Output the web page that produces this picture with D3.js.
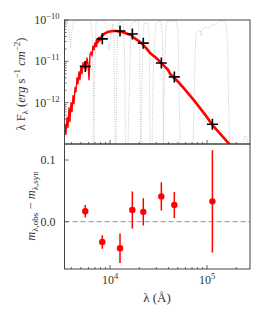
<!DOCTYPE html>
<html><head><meta charset="utf-8">
<script src="https://cdn.jsdelivr.net/npm/d3@7"></script>
<style>
body{margin:0;background:#fff}
text{font-family:"Liberation Serif","DejaVu Serif",serif;fill:#333}
</style>
</head><body>
<script>
// photometry (wavelength in Angstrom)
var bandLam  = [5560, 8330, 12680, 16990, 22030, 33800, 46000, 113500];
var bandFlux = [7.5e-12, 3.5e-11, 5.4e-11, 4.6e-11, 2.75e-11, 9.1e-12, 4.2e-12, 3.0e-13];
// residuals m_obs - m_syn
var resid    = [0.017, -0.033, -0.043, 0.019, 0.016, 0.041, 0.027, 0.033];
var residErr = [0.010, 0.011, 0.024, 0.030, 0.022, 0.023, 0.021, 0.083];

// model spectrum
var modelLam = [3436,3518,3604,3690,3779,3869,3962,4057,4155,4255,4357,4461,4569,4678,4790,4905,
  5023,5144,5267,5395,5524,5657,5793,5932,6074,6220,6370,6523,6679,6841,7004,7173,7345,7521,7702,
  7887,8270,8672,9095,9537,10000,10738,11533,12382,13297,14277,15331,16462,17677,18982,20383,21885,
  23500,25846,29104,31250,33560,36898,39620,41560,45680,50230,59320,75210,95370,112600,136100,164600,181000];
var modelFlux = [2.95e-13,1.69e-13,4.36e-13,2.5e-13,7.58e-13,3.48e-13,1.0e-12,6.07e-13,1.48e-12,9.46e-13,
  2.3e-12,1.84e-12,4.0e-12,2.87e-12,5.58e-12,3.58e-12,7.8e-12,5.0e-12,9.21e-12,6.97e-12,9.72e-12,6.24e-12,
  1.21e-11,8.71e-12,3.58e-12,1.44e-11,1.69e-11,1.36e-11,2.36e-11,1.89e-11,2.79e-11,2.36e-11,3.3e-11,2.95e-11,
  3.68e-11,3.3e-11,4.11e-11,4.6e-11,4.86e-11,5.14e-11,5.28e-11,5.43e-11,5.43e-11,5.28e-11,5.14e-11,4.86e-11,
  4.6e-11,4.35e-11,3.68e-11,3.3e-11,2.95e-11,2.5e-11,2.11e-11,1.6e-11,1.28e-11,1.09e-11,9.21e-12,7.36e-12,
  6.24e-12,5.0e-12,4.0e-12,3.21e-12,2.06e-12,1.06e-12,5.14e-13,2.95e-13,1.79e-13,1.08e-13,8.7e-14];
var noisyEnd = 7900; // the optical part of the model is a thin, spiky line

// filter transmission curves (normalised)
var filters = [
  {lam:[3357,3604,3779,3915,4057,4255,5932,6370,6600,6760,6922],
   tr:[0.984,0.992,0.935,0.774,0.919,0.992,1.0,0.984,0.839,0.435,0]},
  {lam:[6679,7004,7173,7521,8880,9313,9765,10240,10738,10996,11260],
   tr:[0,0.677,0.968,1.0,1.0,0.919,0.758,0.879,0.968,0.839,0]},
  {lam:[11533,11810,12090,12680,13615,14110,14450],
   tr:[0,0.677,0.960,0.984,0.984,0.758,0]},
  {lam:[15331,15890,16462,17260,19440,20150,20630],
   tr:[0,0.516,0.952,0.984,0.992,0.839,0]},
  {lam:[20870,21630,22410,24070,25240,25846],
   tr:[0,0.758,0.968,0.984,0.919,0]},
  {lam:[27100,28080,29810,31250,33560,34770,35610],
   tr:[0,0.677,0.968,0.992,0.992,0.839,0]},
  {lam:[35190,36470,37790,39620,47900,50230,51440,52680],
   tr:[0,0.597,0.968,0.992,0.992,0.919,0.435,0]},
  {lam:[71730,74330,76120,77030,84710,86740,88820,97660,104860,112600,123800,132900,139400,146200,157000,162700,166600,170600],
   tr:[0,0.516,0.839,0.903,0.919,0.871,0.927,0.944,0.935,0.960,0.968,0.984,1.0,0.992,0.960,0.839,0.355,0]},
  {lam:[235000,246500,255500,264700], tr:[0,0.065,0.056,0]}
];

var yTicksTop = [1e-10, 1e-11, 1e-12];
var yExpTop = ["\u221210", "\u221211", "\u221212"];
var xTicks = [1e4, 1e5];
var xExp = ["4", "5"];
var yTicksBot = [0.0, 0.1];

var W = 266, H = 319;
var L = 64.5, R = 250, T1 = 20, B1 = 144, B2 = 269;
var ink = "#444";

var svg = d3.select("body").append("svg").attr("width", W).attr("height", H);

var x = d3.scaleLog().domain([3397, 277000]).range([L, R]);
var yTop = d3.scaleLog().domain([1e-13, 1e-10]).range([B1, T1]);
var yTr = d3.scaleLinear().domain([0, 1]).range([B1, T1]);
var yBot = d3.scaleLinear().domain([-0.0767, 0.126]).range([B2, B1]);

var defs = svg.append("defs");
defs.append("clipPath").attr("id", "c1").append("rect")
  .attr("x", L).attr("y", T1).attr("width", R - L).attr("height", B1 - T1);
defs.append("clipPath").attr("id", "c2").append("rect")
  .attr("x", L).attr("y", B1).attr("width", R - L).attr("height", B2 - B1);

// ---- top panel
var g1 = svg.append("g").attr("clip-path", "url(#c1)");
var trLine = d3.line().x(function (d) { return x(d[0]); }).y(function (d) { return yTr(d[1]); });
filters.forEach(function (f) {
  g1.append("path")
    .attr("d", trLine(d3.zip(f.lam, f.tr)))
    .attr("fill", "none").attr("stroke", "#b8b8b8").attr("stroke-width", 0.8)
    .attr("stroke-dasharray", "1,1.4");
});

var mLine = d3.line().x(function (d) { return x(d[0]); }).y(function (d) { return yTop(d[1]); });
var model = d3.zip(modelLam, modelFlux);
g1.append("path")
  .attr("d", mLine(model.filter(function (d) { return d[0] <= noisyEnd; })))
  .attr("fill", "none").attr("stroke", "#ff0000").attr("stroke-width", 1.4)
  .attr("stroke-linejoin", "round");
g1.append("path")
  .attr("d", mLine(model.filter(function (d) { return d[0] >= 7000; })))
  .attr("fill", "none").attr("stroke", "#ff0000").attr("stroke-width", 2.6)
  .attr("stroke-linejoin", "round");

var s = 5.5;
bandLam.forEach(function (l, i) {
  var cx = x(l), cy = yTop(bandFlux[i]);
  svg.append("path")
    .attr("d", "M" + (cx - s) + "," + cy + "H" + (cx + s) + "M" + cx + "," + (cy - s) + "V" + (cy + s))
    .attr("stroke", "#000").attr("stroke-width", 1.6);
});

// ---- bottom panel
var g2 = svg.append("g").attr("clip-path", "url(#c2)");
g2.append("line")
  .attr("x1", L).attr("x2", R).attr("y1", yBot(0)).attr("y2", yBot(0))
  .attr("stroke", "#aaa").attr("stroke-width", 1.2).attr("stroke-dasharray", "5,3");
bandLam.forEach(function (l, i) {
  g2.append("line")
    .attr("x1", x(l)).attr("x2", x(l))
    .attr("y1", yBot(resid[i] - residErr[i])).attr("y2", yBot(resid[i] + residErr[i]))
    .attr("stroke", "#ff0000").attr("stroke-width", 1.5);
  g2.append("circle").attr("cx", x(l)).attr("cy", yBot(resid[i])).attr("r", 3.2)
    .attr("fill", "#ff0000");
});

// ---- frames
[[T1, B1], [B1, B2]].forEach(function (p) {
  svg.append("rect").attr("x", L).attr("y", p[0]).attr("width", R - L).attr("height", p[1] - p[0])
    .attr("fill", "none").attr("stroke", ink).attr("stroke-width", 1);
});

// ---- ticks
function tick(x1, y1, x2, y2) {
  svg.append("line").attr("x1", x1).attr("y1", y1).attr("x2", x2).attr("y2", y2)
    .attr("stroke", ink).attr("stroke-width", 0.8);
}
var minorX = [];
[1e3, 1e4, 1e5].forEach(function (d) {
  for (var k = 2; k <= 9; k++) minorX.push(d * k);
});
minorX.filter(function (v) { return v > 3397 && v < 277000; }).forEach(function (v) {
  tick(x(v), B1, x(v), B1 - 2); tick(x(v), B2, x(v), B2 - 2);
});
xTicks.forEach(function (v) {
  tick(x(v), B1, x(v), B1 - 4); tick(x(v), B2, x(v), B2 - 4);
});
[1e-13, 1e-12, 1e-11].forEach(function (d) {
  for (var k = 2; k <= 9; k++) tick(L, yTop(d * k), L + 2, yTop(d * k));
});
yTicksTop.forEach(function (v) { tick(L, yTop(v), L + 4, yTop(v)); });
yTicksBot.forEach(function (v) { tick(L, yBot(v), L + 4, yBot(v)); });

// ---- tick labels
yTicksTop.forEach(function (v, i) {
  var t = svg.append("text").attr("x", L - 5).attr("y", yTop(v) + 4)
    .attr("text-anchor", "end").attr("font-size", 12);
  t.append("tspan").text("10");
  t.append("tspan").attr("dy", -5).attr("font-size", 8.5).text(yExpTop[i]);
});
yTicksBot.forEach(function (v) {
  svg.append("text").attr("x", L - 9).attr("y", yBot(v) + 4)
    .attr("text-anchor", "end").attr("font-size", 12).text(d3.format(".1f")(v));
});
xTicks.forEach(function (v, i) {
  var t = svg.append("text").attr("x", x(v)).attr("y", B2 + 15)
    .attr("text-anchor", "middle").attr("font-size", 12);
  t.append("tspan").text("10");
  t.append("tspan").attr("dy", -5).attr("font-size", 8.5).text(xExp[i]);
});

// ---- axis labels
svg.append("text").attr("x", 157).attr("y", 302).attr("text-anchor", "middle")
  .attr("font-size", 13).text("\u03bb (\u00c5)");

var ly = svg.append("text").attr("transform", "translate(25,84) rotate(-90)")
  .attr("text-anchor", "middle").attr("font-size", 12.5);
ly.append("tspan").text("\u03bb F");
ly.append("tspan").attr("dy", 3).attr("font-size", 9).text("\u03bb");
ly.append("tspan").attr("dy", -3).text(" (");
ly.append("tspan").attr("font-style", "italic").text("erg");
ly.append("tspan").text(" s");
ly.append("tspan").attr("dy", -5).attr("font-size", 9).text("\u22121");
ly.append("tspan").attr("dy", 5).text(" ");
ly.append("tspan").attr("font-style", "italic").text("cm");
ly.append("tspan").attr("dy", -5).attr("font-size", 9).text("\u22122");
ly.append("tspan").attr("dy", 5).text(")");

var lb = svg.append("text").attr("transform", "translate(35,206) rotate(-90)")
  .attr("text-anchor", "middle").attr("font-size", 12.5);
lb.append("tspan").attr("font-style", "italic").text("m");
lb.append("tspan").attr("dy", 3).attr("font-size", 9).text("\u03bb,obs");
lb.append("tspan").attr("dy", -3).text(" \u2212 ");
lb.append("tspan").attr("font-style", "italic").text("m");
lb.append("tspan").attr("dy", 3).attr("font-size", 9).text("\u03bb,syn");
</script>
</body></html>
